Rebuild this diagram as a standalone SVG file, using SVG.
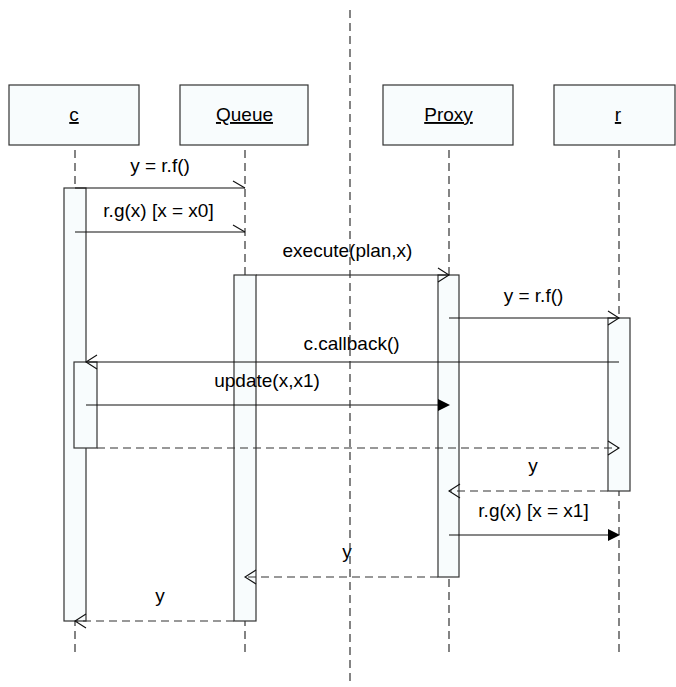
<svg xmlns="http://www.w3.org/2000/svg" width="676" height="687" viewBox="0 0 676 687">
<defs>
<style>
.box{fill:#f8fcfd;stroke:#333;stroke-width:1.2}
.bar{fill:#f8fcfd;stroke:#333;stroke-width:1.2}
.life{stroke:#333;stroke-width:1.2;stroke-dasharray:8 5;fill:none}
.msg{stroke:#111;stroke-width:1.1;fill:none}
.ret{stroke:#333;stroke-width:1.1;fill:none;stroke-dasharray:8 5}
.head{stroke:#111;stroke-width:1.1;fill:none}
.fill{fill:#000;stroke:none}
text{font-family:"Liberation Sans",Arial,sans-serif;font-size:19px;fill:#000}
.lbl{text-anchor:middle}
</style>
</defs>
<rect width="676" height="687" fill="#fff"/>
<g id="lifelines">
<line class="life" x1="75" y1="150" x2="75" y2="657"/>
<line class="life" x1="245" y1="150" x2="245" y2="657"/>
<line class="life" x1="449" y1="150" x2="449" y2="657"/>
<line class="life" x1="619" y1="150" x2="619" y2="657"/>
</g>
<g id="node-c">
<rect class="box" x="9" y="85" width="130" height="60"/>
<text class="lbl" x="74" y="121" text-decoration="underline">c</text>
<rect class="bar" x="64" y="188" width="22" height="433"/>
<rect class="bar" x="74" y="362" width="23" height="86"/>
</g>
<g id="node-queue">
<rect class="box" x="180" y="85" width="128" height="60"/>
<text class="lbl" x="244.5" y="121" text-decoration="underline">Queue</text>
<rect class="bar" x="234" y="275" width="22" height="346"/>
</g>
<g id="node-proxy">
<rect class="box" x="383" y="85" width="130" height="60"/>
<text class="lbl" x="448.5" y="121" text-decoration="underline">Proxy</text>
<rect class="bar" x="438" y="275" width="21" height="302"/>
</g>
<g id="node-r">
<rect class="box" x="554" y="85" width="121" height="60"/>
<text class="lbl" x="618" y="121" text-decoration="underline">r</text>
<rect class="bar" x="608" y="318" width="22" height="173"/>
</g>
<g id="connectors">
<line class="msg" x1="75" y1="188" x2="245" y2="188"/>
<polyline class="head" points="233,181 245,188"/>
<text class="lbl" x="160" y="172">y = r.f()</text>
<line class="msg" x1="75" y1="232" x2="245" y2="232"/>
<polyline class="head" points="233,225 245,232"/>
<text class="lbl" x="158.5" y="217">r.g(x) [x = x0]</text>
<line class="msg" x1="256" y1="275" x2="449" y2="275"/>
<polyline class="head" points="438,268 449,275 438,282"/>
<text class="lbl" x="347.5" y="257">execute(plan,x)</text>
<line class="msg" x1="449" y1="318" x2="619" y2="318"/>
<polyline class="head" points="608,311 619,318 608,325"/>
<text class="lbl" x="533.5" y="302">y = r.f()</text>
<line class="msg" x1="619" y1="362" x2="86" y2="362"/>
<polyline class="head" points="97,355 86,362 97,369"/>
<text class="lbl" x="351.5" y="350">c.callback()</text>
<line class="msg" x1="86" y1="405" x2="440" y2="405"/>
<polygon class="fill" points="438,399 450,405 438,411"/>
<text class="lbl" x="267" y="387">update(x,x1)</text>
<line class="ret" x1="97" y1="448" x2="619" y2="448"/>
<polyline class="head" points="608,441 619,448 608,455"/>
<line class="ret" x1="608" y1="491" x2="449" y2="491"/>
<polyline class="head" points="460,484 449,491 460,498"/>
<text class="lbl" x="533" y="472">y</text>
<line class="msg" x1="449" y1="535" x2="610" y2="535"/>
<polygon class="fill" points="608,529 620,535 608,541"/>
<text class="lbl" x="533.5" y="517">r.g(x) [x = x1]</text>
<line class="ret" x1="438" y1="577" x2="245" y2="577"/>
<polyline class="head" points="256,570 245,577 256,584"/>
<text class="lbl" x="347" y="558">y</text>
<line class="ret" x1="234" y1="621" x2="75" y2="621"/>
<polyline class="head" points="86,614 75,621 86,628"/>
<text class="lbl" x="160" y="602">y</text>
</g>
<g id="divider">
<line class="life" x1="350" y1="10" x2="350" y2="684"/>
</g>
</svg>
